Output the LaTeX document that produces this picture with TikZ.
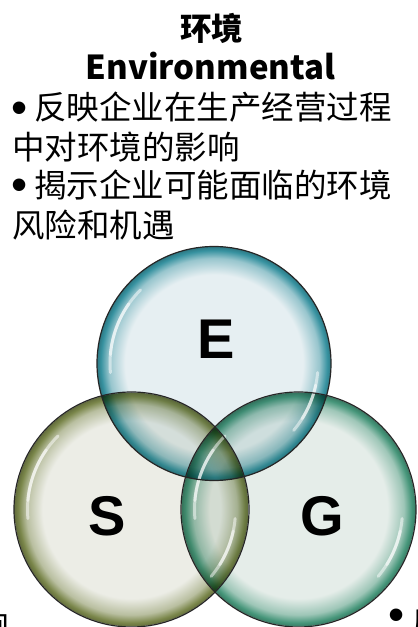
\documentclass[tikz,border=0pt]{standalone}
\usepackage{fontspec}
\setmainfont{Liberation Sans}
\newfontfamily\cjk{Noto Sans CJK SC}
\usetikzlibrary{calc}

\definecolor{Ein}{HTML}{E6EFF2}
\definecolor{Erim}{HTML}{3792A0}
\definecolor{Sin}{HTML}{ECEDE6}
\definecolor{Srim}{HTML}{7A864A}
\definecolor{Gin}{HTML}{E5EDE9}
\definecolor{Grim}{HTML}{46967A}
\colorlet{Emid}{Erim!45!Ein}
\colorlet{Smid}{Srim!45!Sin}
\colorlet{Gmid}{Grim!45!Gin}
\colorlet{Edk}{Erim!82!black}
\colorlet{Sdk}{Srim!82!black}
\colorlet{Gdk}{Grim!82!black}

\pgfdeclareradialshading{bubE}{\pgfpoint{0bp}{0bp}}{color(0bp)=(Ein); color(19bp)=(Ein); color(22.5bp)=(Emid); color(24.2bp)=(Erim); color(25bp)=(Edk); color(50bp)=(Edk)}
\pgfdeclareradialshading{bubS}{\pgfpoint{0bp}{0bp}}{color(0bp)=(Sin); color(19bp)=(Sin); color(22.5bp)=(Smid); color(24.2bp)=(Srim); color(25bp)=(Sdk); color(50bp)=(Sdk)}
\pgfdeclareradialshading{bubG}{\pgfpoint{0bp}{0bp}}{color(0bp)=(Gin); color(19bp)=(Gin); color(22.5bp)=(Gmid); color(24.2bp)=(Grim); color(25bp)=(Gdk); color(50bp)=(Gdk)}

\tikzset{
  bubble/.style={circle, inner sep=0pt, minimum size=234pt},
  rimline/.style={draw=black!85, line width=1.2pt},
  shine/.style={draw=white, line width=3pt, line cap=round, opacity=0.5},
  cjktext/.style={inner sep=0pt, anchor=base west, font=\cjk\fontsize{32.5}{36}\selectfont},
  bulletmark/.style={inner sep=0pt, anchor=base, font=\fontsize{46}{50}\selectfont},
  bigletter/.style={inner sep=0pt, font=\bfseries\fontsize{56}{60}\selectfont}
}

\begin{document}
\begin{tikzpicture}[x=1pt,y=1pt]
\useasboundingbox (0,0) rectangle (418,627);
\fill[white] (0,0) rectangle (418,627);

% header texts
\node[inner sep=0pt, anchor=base, font=\cjk\bfseries\fontsize{31.5}{34}\selectfont] (title) at (211.5,586) {环境};
\node[inner sep=0pt, anchor=base, font=\cjk\bfseries\fontsize{33}{36}\selectfont] (eng) at (210.5,547) {Environmental};
\node[bulletmark] (b1) at (19.5,503.5) {•};
\node[cjktext] (l1) at (34,507) {反映企业在生产经营过程};
\node[cjktext] (l2) at (12,467) {中对环境的影响};
\node[bulletmark] (b2) at (19.5,426.5) {•};
\node[cjktext] (l3) at (34,429) {揭示企业可能面临的环境};
\node[cjktext] (l4) at (12,389) {风险和机遇};

% cut-off texts at the bottom corners
\node[inner sep=0pt, anchor=base east, font=\cjk\fontsize{32.5}{36}\selectfont] (cutl) at (9.5,-9.5) {响};
\node[bulletmark] (b3) at (396.5,-4) {•};
\node[cjktext] (cutr) at (411,-7.5) {反};

% bubbles
\begin{scope}[blend mode=multiply]
  \node[bubble, shading=bubE, shade] (Ec) at (214,263.5) {};
  \node[bubble, shading=bubS, shade] (Sc) at (131.5,117.5) {};
  \node[bubble, shading=bubG, shade] (Gc) at (298.5,117.5) {};
\end{scope}

% highlights
\foreach \c in {Ec,Sc,Gc}{
  \draw[shine] ([shift={(135:104)}]\c.center) arc[start angle=135, end angle=185, radius=104];
  \draw[shine] ([shift={(145:104)}]\c.center) arc[start angle=145, end angle=175, radius=104];
  \draw[shine] ([shift={(-40:104)}]\c.center) arc[start angle=-40, end angle=-5, radius=104];
  \draw[shine] ([shift={(-32:104)}]\c.center) arc[start angle=-32, end angle=-12, radius=104];
}

% outlines
\draw[rimline] (Ec.center) circle (117);
\draw[rimline] (Sc.center) circle (117.5);
\draw[rimline] (Gc.center) circle (117.5);

% letters
\node[bigletter] (lE) at (216,288) {E};
\node[bigletter] (lS) at (107,111) {S};
\node[bigletter] (lG) at (322.5,111) {G};
\end{tikzpicture}
\end{document}
